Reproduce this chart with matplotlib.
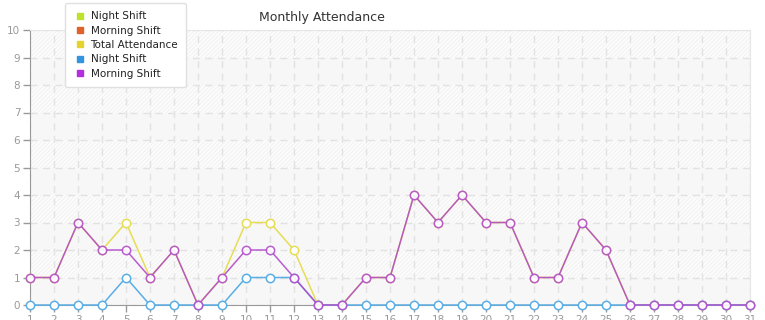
import numpy as np
import matplotlib
matplotlib.use('Agg')
from matplotlib import pyplot as plt
from matplotlib.lines import Line2D

days = list(range(1, 32))
night = [0, 0, 0, 0, 1, 0, 0, 0, 0, 1, 1, 1, 0, 0, 0, 0, 0, 0, 0, 0, 0, 0, 0, 0, 0, 0, 0, 0, 0, 0, 0]
morning = [1, 1, 3, 2, 2, 1, 2, 0, 1, 2, 2, 1, 0, 0, 1, 1, 4, 3, 4, 3, 3, 1, 1, 3, 2, 0, 0, 0, 0, 0, 0]
total = [1, 1, 3, 2, 3, 1, 2, 0, 1, 3, 3, 2, 0, 0, 1, 1, 4, 3, 4, 3, 3, 1, 1, 3, 2, 0, 0, 0, 0, 0, 0]
y_ticks = list(range(0, 11))

legend_names = ['Night Shift', 'Morning Shift', 'Total Attendance', 'Night Shift', 'Morning Shift']
legend_colors = ['#bde12c', '#e0622b', '#e3d32c', '#3394e0', '#b22fe0']

plt.rcParams['hatch.linewidth'] = 0.6

fig = plt.figure(figsize=(7.65, 3.2), dpi=100)
ax = fig.add_axes([30 / 765, 15 / 320, 720 / 765, 275 / 320])

# background bands + faint hatch
ax.set_facecolor('white')
for lo in range(0, 10):
    if lo % 2 == 0:
        ax.axhspan(lo, lo + 1, facecolor='#f7f7f7', edgecolor='none', zorder=0)
    else:
        ax.axhspan(lo, lo + 1, facecolor='#fcfcfc', edgecolor='#f0f0f0', hatch='////////', lw=0, zorder=0)

ax.set_xlim(1, 31)
ax.set_ylim(0, 10)
ax.set_xticks(days)
ax.set_yticks(y_ticks)
ax.grid(True, color='#e2e2e2', linestyle=(0, (5, 4)), linewidth=1)
ax.set_axisbelow(True)

for s in ['top', 'right']:
    ax.spines[s].set_color('#e6e6e6')
ax.spines['left'].set_color('#999999')
ax.spines['bottom'].set_color('#999999')
ax.tick_params(axis='both', colors='#999999', labelsize=7.5, length=5, width=1)
ax.tick_params(axis='x', pad=2)
ax.tick_params(axis='y', pad=2)

kw = dict(marker='o', markersize=6, markerfacecolor='white', markeredgewidth=1.1, linewidth=1.1, clip_on=False)
ax.plot(days, total, color='#e6dd55', zorder=3, **kw)
ax.plot(days, night, color='#5aaee6', zorder=4, **kw)
ax.plot(days, morning, color='#b24ccc', alpha=0.9, zorder=5, **kw)

fig.text(322 / 765, 1 - 17 / 320, 'Monthly Attendance', ha='center', va='center', fontsize=9, color='#333333')

handles = [Line2D([], [], marker='s', linestyle='none', markersize=4.5, color=c) for c in legend_colors]
leg = fig.legend(handles, legend_names, loc='upper left', bbox_to_anchor=(65 / 765, 1 - 3 / 320),
                 fontsize=7.5, frameon=True, fancybox=True, shadow=False, handletextpad=0.35,
                 labelspacing=0.42, borderpad=0.8, handlelength=1.3, borderaxespad=0)
leg.get_frame().set_edgecolor('#e0e0e0')
leg.get_frame().set_facecolor('white')
leg.get_frame().set_alpha(1)
for t in leg.get_texts():
    t.set_color('#222222')

fig.savefig('out.png', dpi=100)
